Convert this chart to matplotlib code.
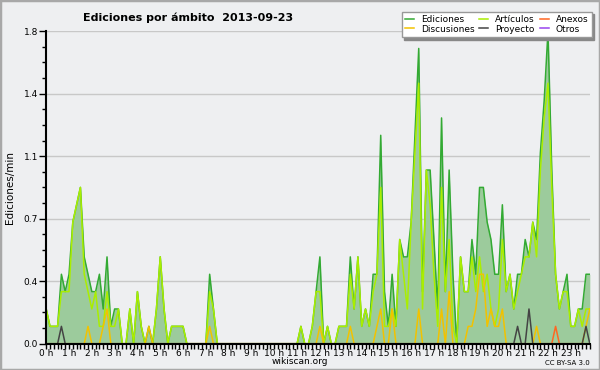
import numpy as np
import matplotlib
matplotlib.use("Agg")
import matplotlib.pyplot as plt
from matplotlib.patches import Rectangle

# 10-minute buckets, edits per minute (one row per hour)
ediciones = [
    0.2, 0.1, 0.1, 0.1, 0.4, 0.3,
    0.4, 0.7, 0.8, 0.9, 0.5, 0.4,
    0.3, 0.3, 0.4, 0.2, 0.5, 0.1,
    0.2, 0.2, 0.0, 0.0, 0.2, 0.0,
    0.3, 0.1, 0.0, 0.1, 0.0, 0.2,
    0.5, 0.2, 0.0, 0.1, 0.1, 0.1,
    0.1, 0.0, 0.0, 0.0, 0.0, 0.0,
    0.0, 0.4, 0.2, 0.0, 0.0, 0.0,
    0.0, 0.0, 0.0, 0.0, 0.0, 0.0,
    0.0, 0.0, 0.0, 0.0, 0.0, 0.0,
    0.0, 0.0, 0.0, 0.0, 0.0, 0.0,
    0.0, 0.1, 0.0, 0.0, 0.1, 0.3,
    0.5, 0.0, 0.1, 0.0, 0.0, 0.1,
    0.1, 0.1, 0.5, 0.2, 0.5, 0.1,
    0.2, 0.1, 0.4, 0.4, 1.2, 0.3,
    0.1, 0.4, 0.1, 0.6, 0.5, 0.5,
    0.7, 1.2, 1.7, 0.3, 1.0, 1.0,
    0.6, 0.2, 1.3, 0.3, 1.0, 0.4,
    0.0, 0.5, 0.3, 0.3, 0.6, 0.4,
    0.9, 0.9, 0.7, 0.6, 0.4, 0.4,
    0.8, 0.3, 0.4, 0.2, 0.4, 0.4,
    0.6, 0.5, 0.7, 0.6, 1.1, 1.4,
    1.8, 1.0, 0.4, 0.2, 0.3, 0.4,
    0.1, 0.1, 0.2, 0.2, 0.4, 0.4,
]
articulos = [
    0.2, 0.1, 0.1, 0.1, 0.3, 0.3,
    0.3, 0.7, 0.8, 0.9, 0.4, 0.3,
    0.2, 0.3, 0.1, 0.1, 0.3, 0.1,
    0.1, 0.2, 0.0, 0.0, 0.2, 0.0,
    0.3, 0.1, 0.0, 0.0, 0.0, 0.2,
    0.5, 0.2, 0.0, 0.1, 0.1, 0.1,
    0.1, 0.0, 0.0, 0.0, 0.0, 0.0,
    0.0, 0.3, 0.2, 0.0, 0.0, 0.0,
    0.0, 0.0, 0.0, 0.0, 0.0, 0.0,
    0.0, 0.0, 0.0, 0.0, 0.0, 0.0,
    0.0, 0.0, 0.0, 0.0, 0.0, 0.0,
    0.0, 0.1, 0.0, 0.0, 0.1, 0.3,
    0.3, 0.0, 0.1, 0.0, 0.0, 0.1,
    0.1, 0.1, 0.4, 0.2, 0.5, 0.1,
    0.2, 0.1, 0.3, 0.4, 0.9, 0.1,
    0.1, 0.2, 0.1, 0.6, 0.4, 0.2,
    0.7, 1.1, 1.5, 0.2, 1.0, 0.8,
    0.4, 0.1, 0.9, 0.3, 0.6, 0.1,
    0.0, 0.5, 0.3, 0.3, 0.5, 0.3,
    0.5, 0.3, 0.4, 0.2, 0.1, 0.2,
    0.6, 0.3, 0.4, 0.2, 0.3, 0.4,
    0.5, 0.5, 0.7, 0.5, 1.0, 1.3,
    1.5, 0.9, 0.4, 0.2, 0.3, 0.3,
    0.1, 0.1, 0.2, 0.1, 0.2, 0.2,
]
discusiones = [
    0.0, 0.0, 0.0, 0.0, 0.0, 0.0,
    0.0, 0.0, 0.0, 0.0, 0.0, 0.1,
    0.0, 0.0, 0.0, 0.1, 0.2, 0.0,
    0.0, 0.0, 0.0, 0.0, 0.0, 0.0,
    0.0, 0.0, 0.0, 0.1, 0.0, 0.0,
    0.0, 0.0, 0.0, 0.0, 0.0, 0.0,
    0.0, 0.0, 0.0, 0.0, 0.0, 0.0,
    0.0, 0.1, 0.0, 0.0, 0.0, 0.0,
    0.0, 0.0, 0.0, 0.0, 0.0, 0.0,
    0.0, 0.0, 0.0, 0.0, 0.0, 0.0,
    0.0, 0.0, 0.0, 0.0, 0.0, 0.0,
    0.0, 0.0, 0.0, 0.0, 0.0, 0.0,
    0.1, 0.0, 0.0, 0.0, 0.0, 0.0,
    0.0, 0.0, 0.1, 0.0, 0.0, 0.0,
    0.0, 0.0, 0.0, 0.1, 0.2, 0.0,
    0.0, 0.2, 0.0, 0.0, 0.0, 0.0,
    0.0, 0.0, 0.2, 0.0, 0.0, 0.0,
    0.0, 0.0, 0.2, 0.0, 0.3, 0.0,
    0.0, 0.0, 0.0, 0.1, 0.1, 0.2,
    0.4, 0.4, 0.1, 0.2, 0.1, 0.1,
    0.2, 0.0, 0.0, 0.0, 0.0, 0.0,
    0.0, 0.0, 0.0, 0.1, 0.0, 0.0,
    0.0, 0.0, 0.0, 0.0, 0.0, 0.0,
    0.0, 0.0, 0.0, 0.0, 0.1, 0.2,
]
proyecto = [
    0.0, 0.0, 0.0, 0.0, 0.1, 0.0,
    *[0.0] * 114,
    0.0, 0.0, 0.0, 0.0, 0.1, 0.0,
    0.0, 0.2, 0.0, 0.0, 0.0, 0.0,
    0.0, 0.0, 0.0, 0.0, 0.0, 0.0,
    0.0, 0.0, 0.0, 0.0, 0.1, 0.0,
]
anexos = [
    *[0.0] * 132,
    0.0, 0.0, 0.1, 0.0, 0.0, 0.0,
    0.0, 0.0, 0.0, 0.0, 0.0, 0.0,
]
otros = [0.0] * 144

hours = np.arange(len(ediciones)) / 6.0
hour_labels = [f"{h} h" for h in range(24)]

BG = "#eeeff1"

fig = plt.figure(figsize=(6.0, 3.7), dpi=100, facecolor=BG)
fig.patches.append(Rectangle((0, 0), 1, 1, transform=fig.transFigure,
                             fill=False, edgecolor="#a8a8a8", linewidth=2.5))
ax = fig.add_axes([0.077, 0.071, 0.906, 0.845])
ax.set_facecolor(BG)

ax.fill_between(hours, 0, ediciones, color="#9ccb9c", linewidth=0, zorder=1)
ax.plot(hours, ediciones, color="#33aa33", lw=1.1, label="Ediciones", zorder=3)
ax.plot(hours, discusiones, color="#f2c200", lw=1.1, label="Discusiones", zorder=5)
ax.plot(hours, articulos, color="#aaee00", lw=1.1, label="Artículos", zorder=4)
ax.plot(hours, proyecto, color="#444444", lw=1.1, label="Proyecto", zorder=6)
ax.plot(hours, anexos, color="#ff6622", lw=1.1, label="Anexos", zorder=6)
ax.plot(hours, otros, color="#9944ee", lw=1.1, label="Otros", zorder=2)

ax.set_xlim(0, hours[-1])
ax.set_ylim(0, 1.8)

yt = np.arange(0, 1.81, 0.36)
ax.set_yticks(yt)
ax.set_yticklabels([f"{v:.1f}" for v in yt])
ax.set_yticks(np.arange(0, 1.81, 0.09), minor=True)
ax.set_xticks(range(24))
ax.set_xticklabels(hour_labels)
ax.set_xticks(np.arange(0, hours[-1] + 0.01, 1 / 6), minor=True)

ax.tick_params(axis="both", which="both", direction="out", labelsize=6.5,
               colors="black", width=1)
ax.tick_params(axis="y", which="major", length=5, pad=1)
ax.tick_params(axis="y", which="minor", length=3)
ax.tick_params(axis="x", which="both", length=3.5, pad=0.5)

ax.grid(axis="y", which="major", color="#c8c8c8", lw=1)
ax.set_axisbelow(True)
for s in ("top", "right"):
    ax.spines[s].set_visible(False)
for s in ("left", "bottom"):
    ax.spines[s].set_linewidth(1.5)
    ax.spines[s].set_zorder(10)

ax.set_ylabel("Ediciones/min", fontsize=7.5)
ax.yaxis.set_label_coords(-0.058, 0.5)

leg = ax.legend(ncol=3, loc="upper right", bbox_to_anchor=(1.0115, 1.077),
                fontsize=6.5, frameon=True, fancybox=False,
                shadow={"color": "#888888", "alpha": 1},
                edgecolor="#999999", framealpha=1, handlelength=1.0,
                handletextpad=0.8, columnspacing=0.5, labelspacing=0.1,
                borderpad=0.35)
leg.set_zorder(20)

fig.text(0.313, 0.953, "Ediciones por ámbito  2013-09-23", ha="center",
         va="center", fontsize=8, fontweight="bold")
fig.text(0.5, 0.022, "wikiscan.org", ha="center", va="center", fontsize=6.5)
fig.text(0.983, 0.02, "CC BY-SA 3.0", ha="right", va="center", fontsize=5)

fig.savefig("out.png", dpi=100, facecolor=BG)
